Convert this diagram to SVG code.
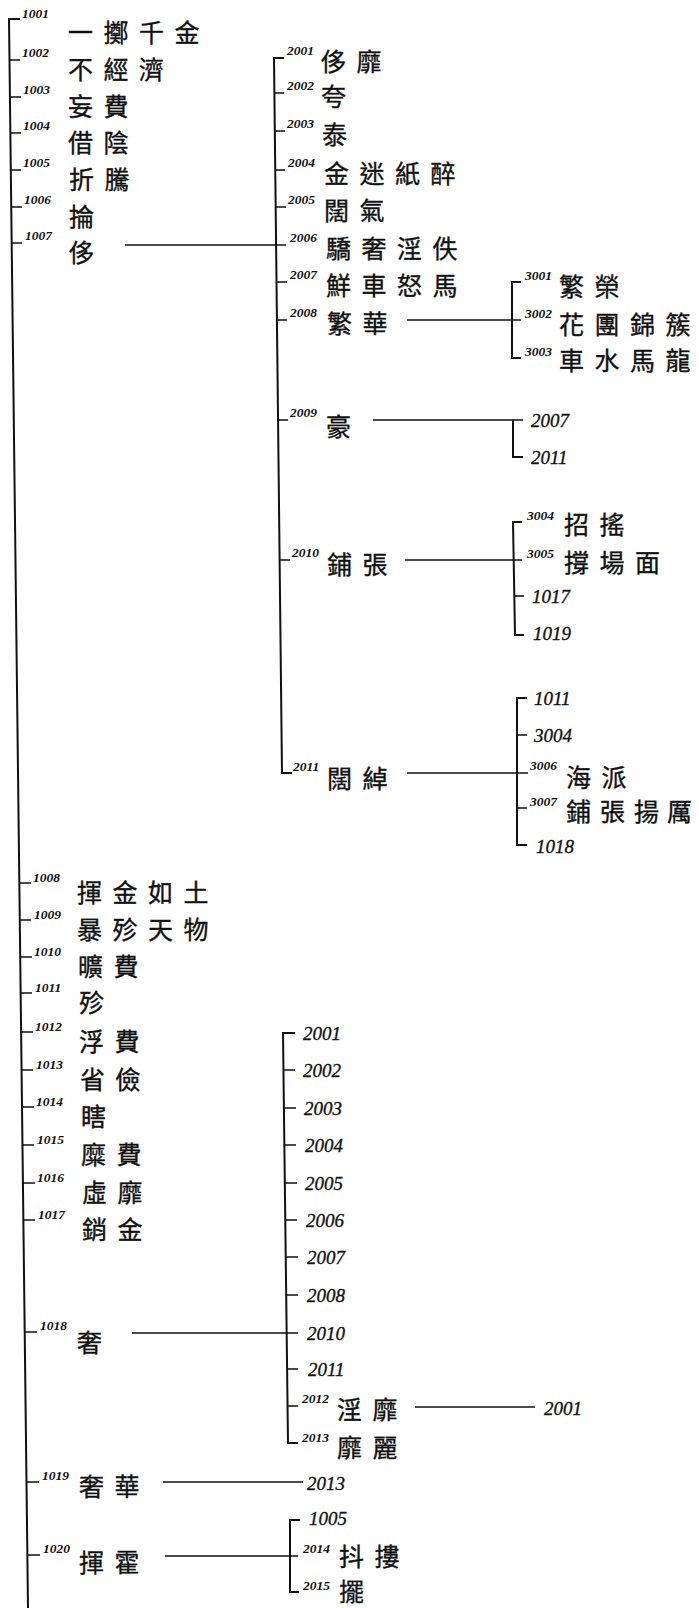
<svg xmlns="http://www.w3.org/2000/svg" width="699" height="1608" viewBox="0 0 699 1608">
<style>
.zh{font-family:"Noto Sans CJK TC","Noto Sans CJK SC",sans-serif;font-size:25px;letter-spacing:10.5px;fill:#111;stroke:#111;stroke-width:0.35}
.sm{font-family:"Liberation Serif",serif;font-style:italic;font-weight:bold;font-size:13.5px;fill:#111}
.rf{font-family:"Liberation Serif",serif;font-style:italic;font-size:19px;fill:#111;stroke:#111;stroke-width:0.35}
.ln{stroke:#111;stroke-width:2;fill:none}
.hl{stroke:#111;stroke-width:1.6;fill:none}
</style>
<rect width="699" height="1608" fill="#fff"/>
<g id="connectors">
<path class="ln" d="M20 19 H9 L28 1608"/>
<path class="hl" d="M9.5 60 H20 M9.9 97 H21 M10.4 133 H21 M10.8 170 H21 M11.2 207 H22 M11.7 243 H22"/>
<path class="hl" d="M19.4 883 H31 M19.8 920 H31 M20.2 957 H32 M20.7 993 H32 M21.1 1032 H33 M21.6 1070 H33 M22 1107 H34 M22.5 1145 H34 M22.9 1183 H35 M23.4 1220 H35 M24.7 1332 H37 M26.5 1482 H39 M27.4 1555 H40"/>
<path class="hl" d="M125 245 H276"/>
<path class="ln" d="M284 58 H274 L282 773 H292"/>
<path class="hl" d="M274.4 93 H284 M274.8 131 H285 M275.3 170 H285 M275.7 207 H286 M276.1 245 H286 M276.5 282 H287 M276.9 320 H287 M278 420 H288 M279.6 560 H290"/>
<path class="hl" d="M407 320 H521"/>
<path class="ln" d="M521 282 H512 V358 H521"/>
<path class="hl" d="M373 420 H523"/>
<path class="ln" d="M513 420 V457 H523"/>
<path class="hl" d="M405 560 H522"/>
<path class="ln" d="M522 522 H513 L515 635 H524"/>
<path class="hl" d="M514 596 H524"/>
<path class="hl" d="M407 773 H528"/>
<path class="ln" d="M527 698 H517 V845 H527"/>
<path class="hl" d="M517 735 H527 M517 808 H527"/>
<path class="ln" d="M295 1033 H283 L288 1443 H298"/>
<path class="hl" d="M283.5 1070 H295 M284 1108 H296 M284.5 1145 H296 M285 1183 H297 M285.5 1220 H297 M286 1257 H298 M286.5 1295 H298 M287.3 1369 H298 M287.7 1406 H298"/>
<path class="hl" d="M132 1333 H298"/>
<path class="hl" d="M415 1407 H535"/>
<path class="hl" d="M163 1482 H303"/>
<path class="ln" d="M300 1520 H290 V1592 H299"/>
<path class="hl" d="M165 1556 H298"/>
</g>
<g id="n1001"><text class="sm" x="22" y="18">1001</text><text class="zh" x="68" y="42">一擲千金</text></g>
<g id="n1002"><text class="sm" x="22" y="57">1002</text><text class="zh" x="68" y="79">不經濟</text></g>
<g id="n1003"><text class="sm" x="23" y="94">1003</text><text class="zh" x="68" y="116">妄費</text></g>
<g id="n1004"><text class="sm" x="23" y="130">1004</text><text class="zh" x="68" y="152">借陰</text></g>
<g id="n1005"><text class="sm" x="23" y="167">1005</text><text class="zh" x="69" y="189">折騰</text></g>
<g id="n1006"><text class="sm" x="24" y="204">1006</text><text class="zh" x="69" y="226">掄</text></g>
<g id="n1007"><text class="sm" x="25" y="240">1007</text><text class="zh" x="69" y="262">侈</text></g>
<g id="n2001"><text class="sm" x="287" y="55">2001</text><text class="zh" x="321" y="71">侈靡</text></g>
<g id="n2002"><text class="sm" x="287" y="90">2002</text><text class="zh" x="321" y="106">夸</text></g>
<g id="n2003"><text class="sm" x="287" y="128">2003</text><text class="zh" x="322" y="144">泰</text></g>
<g id="n2004"><text class="sm" x="288" y="167">2004</text><text class="zh" x="324" y="183">金迷紙醉</text></g>
<g id="n2005"><text class="sm" x="288" y="204">2005</text><text class="zh" x="324" y="220">闊氣</text></g>
<g id="n2006"><text class="sm" x="290" y="242">2006</text><text class="zh" x="326" y="258">驕奢淫佚</text></g>
<g id="n2007"><text class="sm" x="290" y="279">2007</text><text class="zh" x="326" y="295">鮮車怒馬</text></g>
<g id="n2008"><text class="sm" x="290" y="317">2008</text><text class="zh" x="327" y="333">繁華</text></g>
<g id="n3001"><text class="sm" x="525" y="280">3001</text><text class="zh" x="559" y="296">繁榮</text></g>
<g id="n3002"><text class="sm" x="525" y="318">3002</text><text class="zh" x="559" y="334">花團錦簇</text></g>
<g id="n3003"><text class="sm" x="525" y="356">3003</text><text class="zh" x="559" y="370">車水馬龍</text></g>
<g id="n2009"><text class="sm" x="290" y="417">2009</text><text class="zh" x="326" y="436">豪</text></g>
<g id="r2009a"><text class="rf" x="531" y="427">2007</text></g>
<g id="r2009b"><text class="rf" x="531" y="464">2011</text></g>
<g id="n2010"><text class="sm" x="292" y="557">2010</text><text class="zh" x="327" y="574">鋪張</text></g>
<g id="n3004"><text class="sm" x="527" y="520">3004</text><text class="zh" x="564" y="534">招搖</text></g>
<g id="n3005"><text class="sm" x="527" y="558">3005</text><text class="zh" x="564" y="572">撐場面</text></g>
<g id="r2010a"><text class="rf" x="532" y="603">1017</text></g>
<g id="r2010b"><text class="rf" x="533" y="640">1019</text></g>
<g id="n2011"><text class="sm" x="293" y="771">2011</text><text class="zh" x="327" y="788">闊綽</text></g>
<g id="r2011a"><text class="rf" x="534" y="705">1011</text></g>
<g id="r2011b"><text class="rf" x="534" y="742">3004</text></g>
<g id="n3006"><text class="sm" x="530" y="770">3006</text><text class="zh" x="566" y="787">海派</text></g>
<g id="n3007"><text class="sm" x="530" y="806">3007</text><text class="zh" x="566 600 634 667" y="821" style="letter-spacing:0">鋪張揚厲</text></g>
<g id="r2011c"><text class="rf" x="536" y="853">1018</text></g>
<g id="n1008"><text class="sm" x="33" y="882">1008</text><text class="zh" x="77" y="902">揮金如土</text></g>
<g id="n1009"><text class="sm" x="34" y="919">1009</text><text class="zh" x="77" y="939">暴殄天物</text></g>
<g id="n1010"><text class="sm" x="34" y="956">1010</text><text class="zh" x="78" y="976">曠費</text></g>
<g id="n1011"><text class="sm" x="35" y="992">1011</text><text class="zh" x="79" y="1012">殄</text></g>
<g id="n1012"><text class="sm" x="35" y="1031">1012</text><text class="zh" x="79" y="1051">浮費</text></g>
<g id="n1013"><text class="sm" x="36" y="1069">1013</text><text class="zh" x="80" y="1089">省儉</text></g>
<g id="n1014"><text class="sm" x="36" y="1106">1014</text><text class="zh" x="81" y="1126">瞎</text></g>
<g id="n1015"><text class="sm" x="37" y="1144">1015</text><text class="zh" x="81" y="1164">糜費</text></g>
<g id="n1016"><text class="sm" x="37" y="1182">1016</text><text class="zh" x="82" y="1202">虛靡</text></g>
<g id="n1017"><text class="sm" x="38" y="1219">1017</text><text class="zh" x="82" y="1239">銷金</text></g>
<g id="r1018a"><text class="rf" x="303" y="1040">2001</text></g>
<g id="r1018b"><text class="rf" x="303" y="1077">2002</text></g>
<g id="r1018c"><text class="rf" x="304" y="1115">2003</text></g>
<g id="r1018d"><text class="rf" x="305" y="1152">2004</text></g>
<g id="r1018e"><text class="rf" x="305" y="1190">2005</text></g>
<g id="r1018f"><text class="rf" x="306" y="1227">2006</text></g>
<g id="r1018g"><text class="rf" x="307" y="1264">2007</text></g>
<g id="r1018h"><text class="rf" x="307" y="1302">2008</text></g>
<g id="r1018i"><text class="rf" x="307" y="1340">2010</text></g>
<g id="r1018j"><text class="rf" x="308" y="1376">2011</text></g>
<g id="n1018"><text class="sm" x="40" y="1330">1018</text><text class="zh" x="77" y="1352">奢</text></g>
<g id="n2012"><text class="sm" x="302" y="1403">2012</text><text class="zh" x="337" y="1419">淫靡</text></g>
<g id="r2012"><text class="rf" x="544" y="1415">2001</text></g>
<g id="n2013"><text class="sm" x="302" y="1442">2013</text><text class="zh" x="337" y="1457">靡麗</text></g>
<g id="n1019"><text class="sm" x="42" y="1480">1019</text><text class="zh" x="79" y="1496">奢華</text></g>
<g id="r1019"><text class="rf" x="307" y="1490">2013</text></g>
<g id="n1020"><text class="sm" x="43" y="1553">1020</text><text class="zh" x="79" y="1572">揮霍</text></g>
<g id="r1020"><text class="rf" x="309" y="1525">1005</text></g>
<g id="n2014"><text class="sm" x="303" y="1553">2014</text><text class="zh" x="339" y="1566">抖摟</text></g>
<g id="n2015"><text class="sm" x="303" y="1590">2015</text><text class="zh" x="339" y="1601">擺</text></g>
</svg>
